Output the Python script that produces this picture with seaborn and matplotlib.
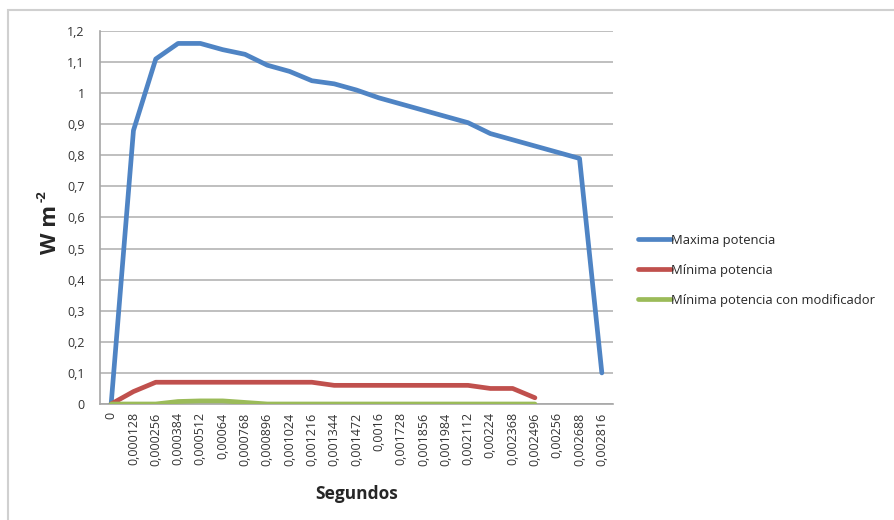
import matplotlib
matplotlib.use("Agg")
import matplotlib.pyplot as plt
from matplotlib.patches import Rectangle
from matplotlib.lines import Line2D
import seaborn as sns
import pandas as pd

# Time categories (seconds) as shown on the axis
segundos = ["0", "0,000128", "0,000256", "0,000384", "0,000512", "0,00064",
            "0,000768", "0,000896", "0,001024", "0,001216", "0,001344",
            "0,001472", "0,0016", "0,001728", "0,001856", "0,001984",
            "0,002112", "0,00224", "0,002368", "0,002496", "0,00256",
            "0,002688", "0,002816"]

maxima = [0.0, 0.88, 1.11, 1.16, 1.16, 1.14, 1.125, 1.09, 1.07, 1.04, 1.03,
          1.01, 0.985, 0.965, 0.945, 0.925, 0.905, 0.87, 0.85, 0.83, 0.81,
          0.79, 0.10]
minima = [0.0, 0.04, 0.07, 0.07, 0.07, 0.07, 0.07, 0.07, 0.07, 0.07, 0.06,
          0.06, 0.06, 0.06, 0.06, 0.06, 0.06, 0.05, 0.05, 0.02]
minima_mod = [0.0, 0.0, 0.0, 0.008, 0.01, 0.01, 0.005, 0.0, 0.0, 0.0, 0.0,
              0.0, 0.0, 0.0, 0.0, 0.0, 0.0, 0.0, 0.0, 0.0]

series_names = ["Maxima potencia", "Mínima potencia",
                "Mínima potencia con modificador"]
series_values = [maxima, minima, minima_mod]
colors = ["#4F84C4", "#C0504D", "#9BBB59"]

y_ticks = [0, 0.1, 0.2, 0.3, 0.4, 0.5, 0.6, 0.7, 0.8, 0.9, 1.0, 1.1, 1.2]
y_tick_labels = ["0", "0,1", "0,2", "0,3", "0,4", "0,5", "0,6", "0,7",
                 "0,8", "0,9", "1", "1,1", "1,2"]

rows = []
for name, vals in zip(series_names, series_values):
    for i, v in enumerate(vals):
        rows.append({"pos": i, "valor": v, "serie": name})
df = pd.DataFrame(rows)

sns.set_theme(style="white")
plt.rcParams["font.family"] = ["Open Sans", "DejaVu Sans"]

fig = plt.figure(figsize=(8.94, 5.2), dpi=100)
W, H = 894, 520
ax = fig.add_axes([100 / W, 1 - 404 / H, (613 - 100) / W, (404 - 31) / H])

sns.lineplot(data=df, x="pos", y="valor", hue="serie", hue_order=series_names,
             palette=colors, linewidth=3.4, ax=ax, legend=False,
             solid_capstyle="round", solid_joinstyle="round", zorder=3)

ax.set_xlim(-0.5, len(segundos) - 0.5)
ax.set_ylim(0, 1.2)
ax.set_yticks(y_ticks)
ax.set_yticklabels(y_tick_labels, fontsize=9, color="#333333")
ax.set_xticks(range(len(segundos)))
ax.set_xticklabels(segundos, rotation=90, fontsize=9, color="#333333")
ax.set_xticks([i - 0.5 for i in range(len(segundos) + 1)], minor=True)
ax.tick_params(axis="x", which="major", length=0, pad=6)
ax.tick_params(axis="x", which="minor", length=4, width=1, color="#A6A6A6",
               direction="out")
ax.tick_params(axis="y", which="major", length=5, width=1, color="#A6A6A6",
               direction="out", pad=6)

ax.grid(axis="y", color="#BFBFBF", linewidth=1.4, zorder=0)
ax.set_axisbelow(True)
for s in ["top", "right"]:
    ax.spines[s].set_visible(False)
for s in ["left", "bottom"]:
    ax.spines[s].set_color("#A6A6A6")
    ax.spines[s].set_linewidth(1.2)

ax.set_xlabel("Segundos", fontsize=12.5, fontweight="bold", labelpad=14)
ax.set_ylabel("")

# Y axis title: "W m" with a raised "-2" exponent
fig.text(50 / W, 1 - 229 / H, "W m", rotation=90, fontsize=16,
         fontweight="bold", ha="center", va="center")
fig.text(42 / W, 1 - 196 / H, "-2", rotation=90, fontsize=9.5,
         fontweight="bold", ha="center", va="center")

handles = [Line2D([0], [0], color=c, linewidth=3.4) for c in colors]
fig.legend(handles, series_names, loc="upper left",
           bbox_to_anchor=(638 / W, 1 - 234 / H), frameon=False,
           fontsize=9.4, handlelength=2.5, handletextpad=0.05,
           labelspacing=1.3, borderaxespad=0, borderpad=0)

fig.patches.append(Rectangle((8 / W, -0.05), 1.0, 1 - 10 / H + 0.05,
                             transform=fig.transFigure, fill=False,
                             edgecolor="#D0D0D0", linewidth=1.5))

fig.savefig("out.png", dpi=100, facecolor="white")
